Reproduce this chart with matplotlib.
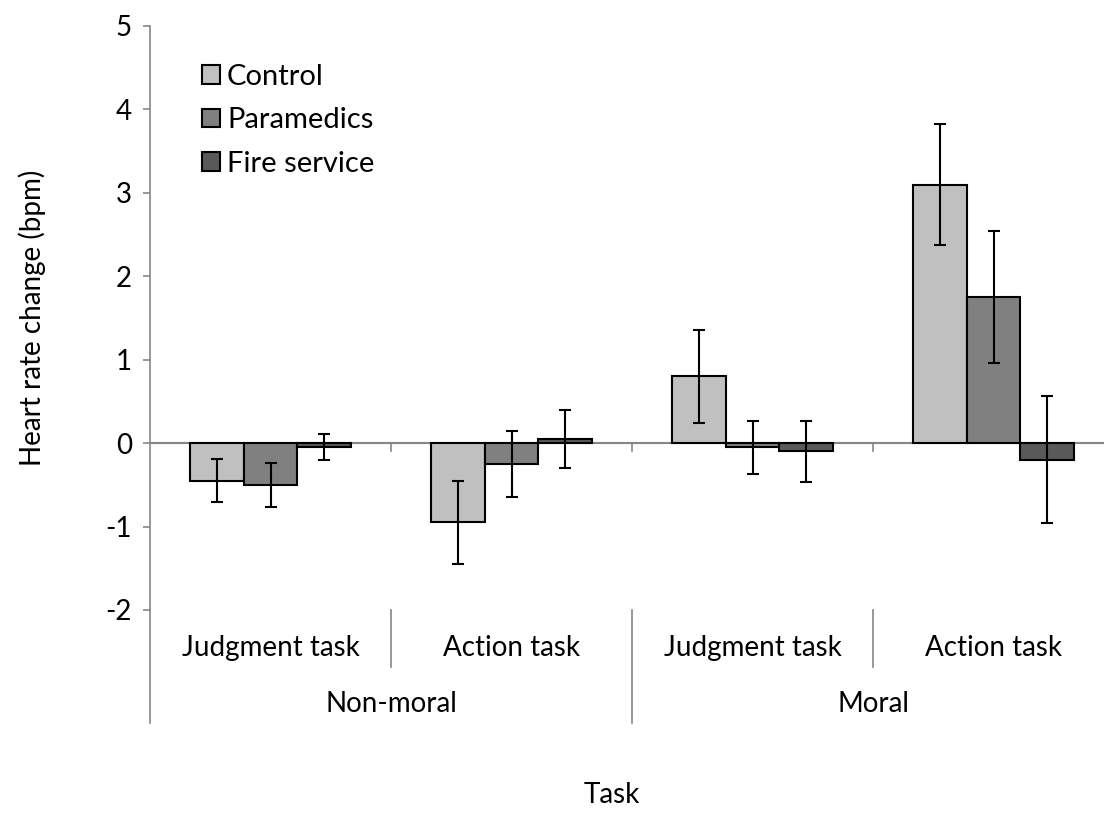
import matplotlib.pyplot as plt
import numpy as np

plt.rcParams['font.family'] = ['Lato', 'DejaVu Sans']

tasks = ['Judgment task', 'Action task', 'Judgment task', 'Action task']
groups = ['Non-moral', 'Moral']
series = ['Control', 'Paramedics', 'Fire service']
colors = ['#c0c0c0', '#808080', '#595959']

control = [-0.45, -0.95, 0.80, 3.10]
paramedics = [-0.50, -0.25, -0.05, 1.75]
fire = [-0.05, 0.05, -0.10, -0.20]
control_err = [0.26, 0.50, 0.56, 0.72]
paramedics_err = [0.26, 0.39, 0.32, 0.79]
fire_err = [0.155, 0.345, 0.37, 0.76]

values = [control, paramedics, fire]
errors = [control_err, paramedics_err, fire_err]

fig = plt.figure(figsize=(11.04, 8.27), dpi=100)
ax = fig.add_axes([150 / 1104, 1 - 610 / 827, 964 / 1104, 584 / 827])

x = np.arange(len(tasks)) + 0.5
w = 0.222
for i, (vals, errs) in enumerate(zip(values, errors)):
    pos = x + (i - 1) * w
    ax.bar(pos, vals, w, color=colors[i], edgecolor='black', linewidth=1.5,
           label=series[i], zorder=2)
    ax.errorbar(pos, vals, yerr=errs, fmt='none', ecolor='black',
                elinewidth=1.5, capsize=4.3, capthick=1.5, zorder=3)

ax.set_xlim(0, 4)
ax.set_ylim(-2, 5)
ax.set_yticks(range(-2, 6))
ax.set_yticklabels([str(v) for v in range(-2, 6)], fontsize=20)
ax.set_xticks([])

grey = '#868686'
for s in ['top', 'right', 'bottom']:
    ax.spines[s].set_visible(False)
ax.spines['left'].set_color(grey)
ax.spines['left'].set_linewidth(1.2)
ax.tick_params(axis='y', length=5, width=1.2, color=grey, pad=8)
ax.axhline(0, color=grey, linewidth=1.5, zorder=1)

# small ticks on the zero line at category boundaries
for b in [1, 2, 3]:
    ax.plot([b, b], [0, -0.1], color=grey, linewidth=1.2, zorder=1)

# category separators below the plot
trans = ax.get_xaxis_transform()
for b in [1, 3]:
    ax.plot([b, b], [0, -57 / 584], transform=trans, color=grey,
            linewidth=1.2, clip_on=False)
for b in [0, 2, 4]:
    ax.plot([b, b], [0, -113 / 584], transform=trans, color=grey,
            linewidth=1.2, clip_on=False)

for xi, t in zip(x, tasks):
    ax.text(xi, -38 / 584, t, transform=trans, ha='center', va='center',
            fontsize=20)
for gi, g in enumerate(groups):
    ax.text(1 + 2 * gi, -94 / 584, g, transform=trans, ha='center',
            va='center', fontsize=20)

fig.text(32 / 1104, 1 - 318 / 827, 'Heart rate change (bpm)', rotation=90,
         ha='center', va='center', fontsize=20)
fig.text(612 / 1104, 1 - 795 / 827, 'Task', ha='center', va='center',
         fontsize=20)

leg = ax.legend(loc='upper left', bbox_to_anchor=(0.042, 0.955), frameon=False,
                fontsize=21, handlelength=0.6, handleheight=0.6,
                handletextpad=0.25, labelspacing=0.6, borderaxespad=0)

fig.savefig('out.png', dpi=100)
